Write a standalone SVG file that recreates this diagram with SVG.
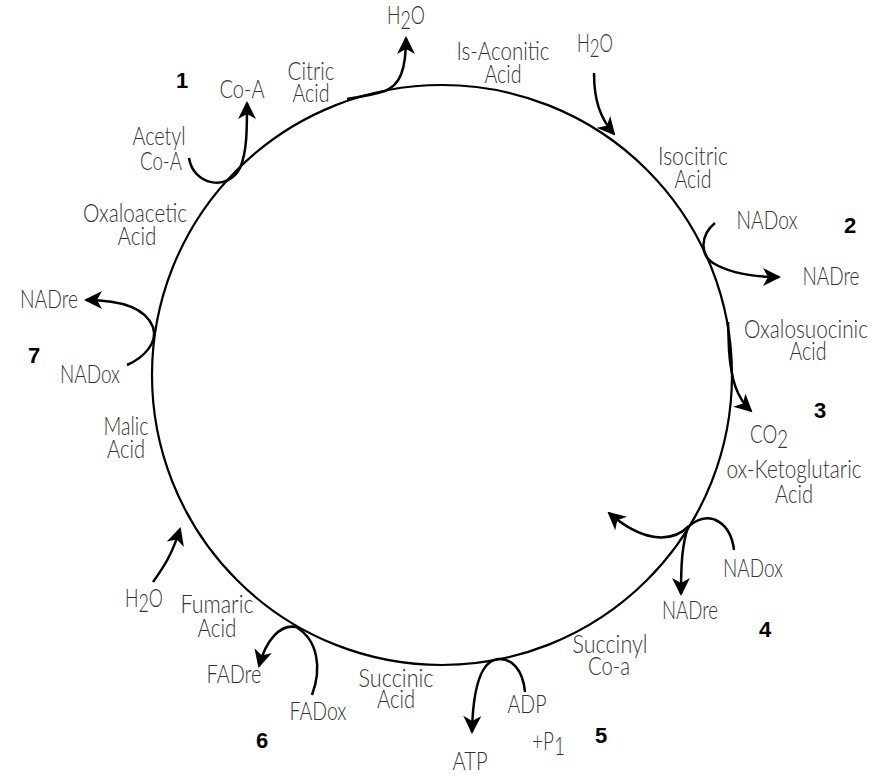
<svg xmlns="http://www.w3.org/2000/svg" width="872" height="775" viewBox="0 0 872 775">
<defs>
<marker id="ah" viewBox="0 0 18 18" refX="16" refY="9" markerWidth="18" markerHeight="18" markerUnits="userSpaceOnUse" orient="auto">
<path d="M0,0 L18,9 L0,18 L5,9 Z" fill="#000"/>
</marker>
<style>
.t{font-family:Lato,"Liberation Sans",Arial,sans-serif;font-weight:300;font-size:25px;fill:#333;text-anchor:middle}
.s{text-anchor:start}
.n{font-family:"Liberation Sans",Arial,sans-serif;font-size:22px;font-weight:bold;fill:#000;text-anchor:middle}
.c{fill:none;stroke:#000;stroke-width:2.5}
.a{fill:none;stroke:#000;stroke-width:2.5;marker-end:url(#ah)}
</style>
</defs>
<rect width="872" height="775" fill="#fff"/>
<g id="cycle"><circle cx="442" cy="375" r="290" fill="none" stroke="#000" stroke-width="2.2"/></g>
<g id="connectors">
<path class="a" d="M189,158 C193,185 228,192 240,168 C247,152 247,130 247,103"/>
<path class="a" d="M347,99 C365,96 375,94 385,91 C400,85 406,70 406,38"/>
<path class="a" d="M594,73 C594,100 600,118 614,134"/>
<path class="a" d="M715,223 C700,235 700,255 713,263 C728,272 750,277 779,277"/>
<path class="a" d="M728,322 L729,350 C731,380 737,398 751,411"/>
<path class="c" d="M734,550 C731,525 712,508 689,526"/>
<path class="a" d="M689,526 C670,545 640,540 609,513"/>
<path class="a" d="M688,527 C682,545 681,565 681,594"/>
<path class="a" d="M525,692 C523,670 512,658 498,659 C482,661 473,685 472,732"/>
<path class="a" d="M312,695 C322,668 318,640 296,627 C280,624 266,640 259,666"/>
<path class="a" d="M153,582 C163,568 172,555 180,529"/>
<path class="a" d="M127,365 C145,357 158,342 153,327 C145,307 120,300 86,300"/>
</g>
<g id="step-numbers">
<text class="n" x="182" y="88">1</text>
<text class="n" x="850" y="233">2</text>
<text class="n" x="820" y="418">3</text>
<text class="n" x="765" y="637">4</text>
<text class="n" x="601" y="743">5</text>
<text class="n" x="262" y="748">6</text>
<text class="n" x="34" y="363">7</text>
</g>
<g id="citric-acid"><text class="t" x="311" y="80" textLength="47" lengthAdjust="spacingAndGlyphs">Citric</text><text class="t" x="311" y="102" textLength="37" lengthAdjust="spacingAndGlyphs">Acid</text></g>
<g id="h2o-1"><text class="t s" x="387" y="24" textLength="38" lengthAdjust="spacingAndGlyphs">H<tspan dy="5">2</tspan><tspan dy="-5">O</tspan></text></g>
<g id="coa-1"><text class="t" x="242" y="98" textLength="45" lengthAdjust="spacingAndGlyphs">Co-A</text></g>
<g id="acetyl-coa"><text class="t" x="159" y="145" textLength="53" lengthAdjust="spacingAndGlyphs">Acetyl</text><text class="t" x="161" y="170" textLength="42" lengthAdjust="spacingAndGlyphs">Co-A</text></g>
<g id="is-aconitic-acid"><text class="t" x="503" y="60" textLength="93" lengthAdjust="spacingAndGlyphs">Is-Aconitic</text><text class="t" x="503" y="83" textLength="37" lengthAdjust="spacingAndGlyphs">Acid</text></g>
<g id="h2o-2"><text class="t s" x="577" y="52" textLength="36" lengthAdjust="spacingAndGlyphs">H<tspan dy="5">2</tspan><tspan dy="-5">O</tspan></text></g>
<g id="isocitric-acid"><text class="t" x="693" y="165" textLength="70" lengthAdjust="spacingAndGlyphs">Isocitric</text><text class="t" x="693" y="188" textLength="37" lengthAdjust="spacingAndGlyphs">Acid</text></g>
<g id="nadox-2"><text class="t" x="767" y="229" textLength="61" lengthAdjust="spacingAndGlyphs">NADox</text></g>
<g id="nadre-2"><text class="t" x="831" y="285" textLength="57" lengthAdjust="spacingAndGlyphs">NADre</text></g>
<g id="oxalosuccinic-acid"><text class="t" x="806" y="338" textLength="124" lengthAdjust="spacingAndGlyphs">Oxalosuocinic</text><text class="t" x="808" y="360" textLength="37" lengthAdjust="spacingAndGlyphs">Acid</text></g>
<g id="co2"><text class="t s" x="750" y="443" textLength="38" lengthAdjust="spacingAndGlyphs">CO<tspan dy="5">2</tspan></text></g>
<g id="ketoglutaric-acid"><text class="t" x="794" y="478" textLength="135" lengthAdjust="spacingAndGlyphs">ox-Ketoglutaric</text><text class="t" x="794" y="503" textLength="38" lengthAdjust="spacingAndGlyphs">Acid</text></g>
<g id="nadox-4"><text class="t" x="753" y="577" textLength="60" lengthAdjust="spacingAndGlyphs">NADox</text></g>
<g id="nadre-4"><text class="t" x="690" y="619" textLength="56" lengthAdjust="spacingAndGlyphs">NADre</text></g>
<g id="succinyl-coa"><text class="t" x="610" y="653" textLength="75" lengthAdjust="spacingAndGlyphs">Succinyl</text><text class="t" x="609" y="675" textLength="42" lengthAdjust="spacingAndGlyphs">Co-a</text></g>
<g id="succinic-acid"><text class="t" x="396" y="687" textLength="75" lengthAdjust="spacingAndGlyphs">Succinic</text><text class="t" x="396" y="708" textLength="38" lengthAdjust="spacingAndGlyphs">Acid</text></g>
<g id="adp"><text class="t" x="527" y="713" textLength="39" lengthAdjust="spacingAndGlyphs">ADP</text></g>
<g id="pi"><text class="t s" x="532" y="750" textLength="33" lengthAdjust="spacingAndGlyphs">+P<tspan dy="5">1</tspan></text></g>
<g id="atp"><text class="t" x="470" y="770" textLength="35" lengthAdjust="spacingAndGlyphs">ATP</text></g>
<g id="h2o-3"><text class="t s" x="125" y="607" textLength="38" lengthAdjust="spacingAndGlyphs">H<tspan dy="5">2</tspan><tspan dy="-5">O</tspan></text></g>
<g id="fumaric-acid"><text class="t" x="217" y="613" textLength="73" lengthAdjust="spacingAndGlyphs">Fumaric</text><text class="t" x="217" y="637" textLength="39" lengthAdjust="spacingAndGlyphs">Acid</text></g>
<g id="fadre"><text class="t" x="234" y="683" textLength="55" lengthAdjust="spacingAndGlyphs">FADre</text></g>
<g id="fadox"><text class="t" x="318" y="720" textLength="57" lengthAdjust="spacingAndGlyphs">FADox</text></g>
<g id="oxaloacetic-acid"><text class="t" x="135" y="222" textLength="104" lengthAdjust="spacingAndGlyphs">Oxaloacetic</text><text class="t" x="137" y="245" textLength="39" lengthAdjust="spacingAndGlyphs">Acid</text></g>
<g id="nadre-7"><text class="t" x="49" y="308" textLength="58" lengthAdjust="spacingAndGlyphs">NADre</text></g>
<g id="nadox-7"><text class="t" x="90" y="383" textLength="60" lengthAdjust="spacingAndGlyphs">NADox</text></g>
<g id="malic-acid"><text class="t" x="126" y="435" textLength="45" lengthAdjust="spacingAndGlyphs">Malic</text><text class="t" x="126" y="458" textLength="38" lengthAdjust="spacingAndGlyphs">Acid</text></g>
</svg>
